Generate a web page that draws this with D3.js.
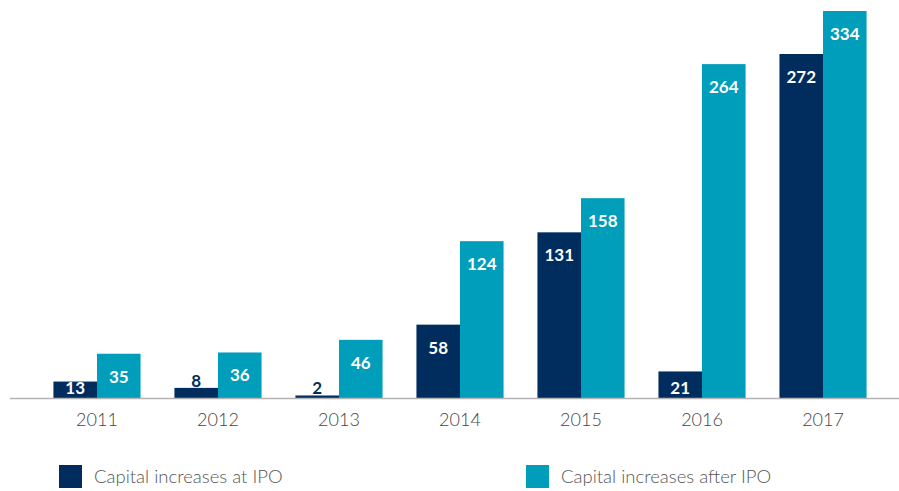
<!DOCTYPE html>
<html>
<head>
<meta charset="utf-8">
<script src="https://cdn.jsdelivr.net/npm/d3@7"></script>
<style>
  body { margin: 0; background: #fff; }
  svg { display: block; }
</style>
</head>
<body>
<div id="chart"></div>
<script>
// data
var years = ["2011", "2012", "2013", "2014", "2015", "2016", "2017"];
var atIPO = [13, 8, 2, 58, 131, 21, 272];
var afterIPO = [35, 36, 46, 124, 158, 264, 334];
var seriesNames = ["Capital increases at IPO", "Capital increases after IPO"];
var seriesColors = ["#012d5e", "#009eba"];

var width = 899, height = 491;

var svg = d3.select("#chart")
  .append("svg")
    .attr("width", width)
    .attr("height", height);

// group scale for years, inner scale for the two series
var x = d3.scaleBand()
  .domain(years)
  .range([36, 884])
  .paddingInner(0.28)
  .paddingOuter(0.144);

var x1 = d3.scaleBand()
  .domain([0, 1])
  .range([0, x.bandwidth()]);

// the tallest bar runs off the top, so clamp it
var y = d3.scaleLinear()
  .domain([0, 306])
  .range([398, 11])
  .clamp(true);

var rows = [];
years.forEach(function (yr, i) {
  rows.push({ year: yr, s: 0, v: atIPO[i] });
  rows.push({ year: yr, s: 1, v: afterIPO[i] });
});

svg.append("g")
  .selectAll("rect")
  .data(rows)
  .enter()
  .append("rect")
    .attr("x", function (d) { return x(d.year) + x1(d.s); })
    .attr("y", function (d) { return y(d.v); })
    .attr("width", x1.bandwidth())
    .attr("height", function (d) { return y(0) - y(d.v); })
    .attr("fill", function (d) { return seriesColors[d.s]; });

// baseline
svg.append("line")
  .attr("x1", 10).attr("x2", width)
  .attr("y1", 398.5).attr("y2", 398.5)
  .attr("stroke", "#b3b3b3")
  .attr("stroke-width", 1.5);

function small(d) { return (y(0) - y(d.v)) < 14; }

// value labels
svg.append("g")
  .selectAll("text")
  .data(rows)
  .enter()
  .append("text")
    .attr("x", function (d) { return x(d.year) + x1(d.s) + x1.bandwidth() / 2; })
    .attr("y", function (d) {
      var top = y(d.v);
      if (small(d)) return top - 1;
      return Math.min(top + 29, y(0) - 4);
    })
    .attr("text-anchor", "middle")
    .attr("font-family", "Lato, 'Open Sans', sans-serif")
    .attr("font-weight", "bold")
    .attr("font-size", 17)
    .attr("fill", function (d) { return small(d) ? seriesColors[0] : "#fff"; })
    .text(function (d) { return d.v; });

// year ticks
svg.append("g")
  .selectAll("text")
  .data(years)
  .enter()
  .append("text")
    .attr("x", function (d) { return x(d) + x.bandwidth() / 2; })
    .attr("y", 426)
    .attr("text-anchor", "middle")
    .attr("font-family", "Lato, sans-serif")
    .attr("font-weight", 300)
    .attr("font-size", 18)
    .attr("fill", "#444")
    .text(function (d) { return d; });

// legend
var legendX = [59, 526];
var lg = svg.append("g")
  .selectAll("g")
  .data(seriesNames)
  .enter()
  .append("g")
    .attr("transform", function (d, i) { return "translate(" + legendX[i] + ",465)"; });

lg.append("rect")
  .attr("width", 23)
  .attr("height", 23)
  .attr("fill", function (d, i) { return seriesColors[i]; });

lg.append("text")
  .attr("x", 35)
  .attr("y", 18)
  .attr("font-family", "Lato, sans-serif")
  .attr("font-weight", 300)
  .attr("font-size", 18.5)
  .attr("fill", "#555")
  .text(function (d) { return d; });
</script>
</body>
</html>
